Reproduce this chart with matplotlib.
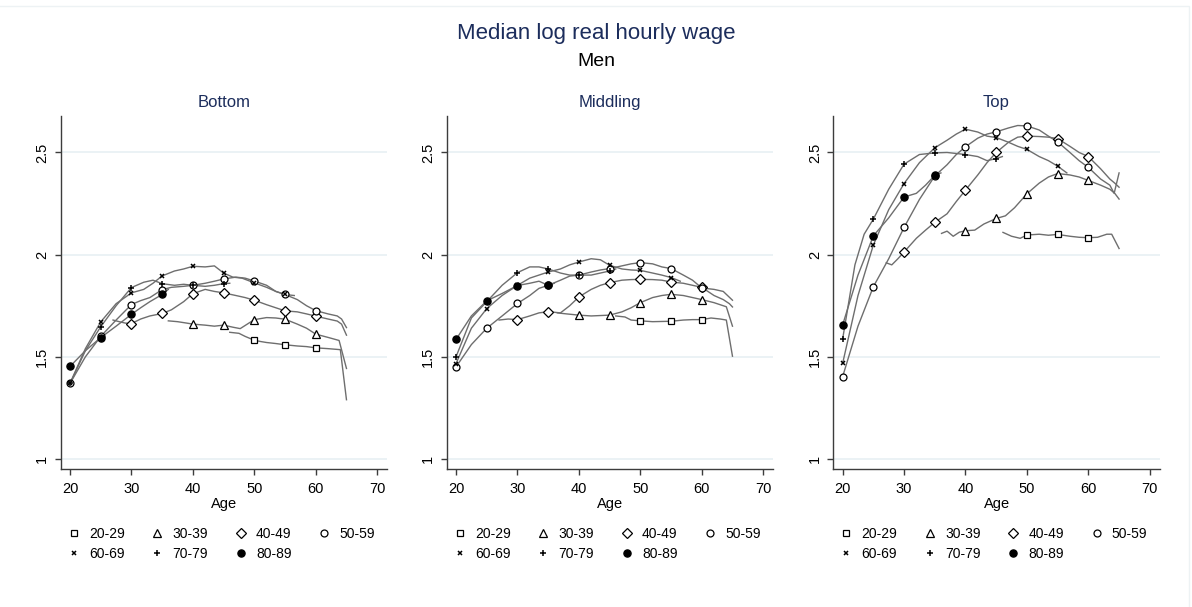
import matplotlib
matplotlib.use("Agg")
import matplotlib.pyplot as plt
from matplotlib.lines import Line2D
from matplotlib.patches import Rectangle

plt.rcParams['font.family'] = ['Liberation Sans', 'DejaVu Sans']

# cohort labels (birth decade) and the three wage groups
cohorts = ['20-29', '30-39', '40-49', '50-59', '60-69', '70-79', '80-89']
panels = ['Bottom', 'Middling', 'Top']

# (age, median log real hourly wage) for each cohort, by group
bottom_20_29 = [(46, 1.62), (47.5, 1.615), (48.5, 1.60), (50, 1.581), (51, 1.575), (52, 1.57), (53.5, 1.565),
                (55, 1.559), (57, 1.553), (58.5, 1.55), (60, 1.544), (62, 1.54), (64, 1.535), (65, 1.29)]
bottom_30_39 = [(36, 1.676), (37.5, 1.672), (39, 1.665), (40, 1.66), (42, 1.655), (43.5, 1.65), (45, 1.655),
                (46.5, 1.645), (47.7, 1.638), (50, 1.682), (52, 1.692), (53.5, 1.69), (55, 1.684), (57, 1.66),
                (58.5, 1.64), (60, 1.611), (62, 1.595), (63.8, 1.58), (65, 1.443)]
bottom_40_49 = [(27, 1.68), (28, 1.672), (29, 1.665), (30, 1.663), (31.5, 1.685), (33, 1.70), (35, 1.712),
                (36.5, 1.73), (38.5, 1.77), (40, 1.809), (42, 1.83), (43.5, 1.82), (45, 1.813), (47, 1.80),
                (48.5, 1.79), (50, 1.777), (52, 1.755), (53.5, 1.74), (55, 1.725), (57, 1.72), (58.5, 1.71),
                (60, 1.699), (62, 1.685), (63.5, 1.675), (64.2, 1.66), (65, 1.606)]
bottom_50_59 = [(20, 1.37), (22.5, 1.50), (25, 1.60), (27.5, 1.68), (30, 1.756), (31.5, 1.775), (33, 1.79),
                (35, 1.829), (36.5, 1.84), (38.5, 1.845), (40, 1.85), (42, 1.86), (43.5, 1.87), (45, 1.881),
                (47, 1.89), (48.5, 1.885), (50, 1.871), (52, 1.85), (53.5, 1.82), (55, 1.805), (57, 1.78),
                (58.5, 1.75), (60, 1.726), (62, 1.71), (63.5, 1.70), (64.2, 1.685), (65, 1.643)]
bottom_60_69 = [(20, 1.37), (22.5, 1.54), (25, 1.671), (27.5, 1.76), (30, 1.813), (32, 1.83), (33.5, 1.86),
                (35, 1.896), (37, 1.92), (38.5, 1.93), (40, 1.943), (42, 1.94), (43.5, 1.945), (45, 1.91),
                (46.5, 1.89), (48, 1.885), (50, 1.862), (52, 1.84), (53.5, 1.82), (55, 1.805), (56.5, 1.80)]
bottom_70_79 = [(20, 1.37), (22.5, 1.53), (25, 1.647), (27.5, 1.75), (30, 1.839), (32, 1.865), (33.5, 1.875),
                (35, 1.858), (37, 1.85), (38.5, 1.855), (40, 1.85), (42, 1.845), (43.5, 1.85), (45, 1.858),
                (46, 1.86)]
bottom_80_89 = [(20, 1.453), (22.5, 1.53), (25, 1.594), (27.5, 1.65), (30, 1.708), (31.5, 1.74), (33, 1.77),
                (35, 1.805), (36, 1.83)]

middling_20_29 = [(46, 1.70), (47.5, 1.695), (48.5, 1.68), (50, 1.676), (52, 1.672), (53.5, 1.673), (55, 1.674),
                  (57, 1.68), (58.5, 1.682), (60, 1.682), (61.5, 1.69), (63, 1.685), (64, 1.68), (65, 1.503)]
middling_30_39 = [(36.5, 1.715), (38, 1.71), (40, 1.704), (42, 1.70), (43.5, 1.702), (45, 1.704), (47, 1.72),
                  (48.5, 1.74), (50, 1.765), (52, 1.79), (53.5, 1.80), (55, 1.806), (57, 1.80), (58.5, 1.79),
                  (60, 1.78), (62, 1.765), (64, 1.745), (65, 1.65)]
middling_40_49 = [(27, 1.68), (28.5, 1.685), (30, 1.682), (32, 1.70), (33.5, 1.715), (35, 1.721), (37, 1.715),
                  (38.5, 1.75), (40, 1.793), (42, 1.83), (43.5, 1.85), (45, 1.863), (47, 1.875), (48.5, 1.878),
                  (50, 1.879), (52, 1.878), (53.5, 1.875), (55, 1.866), (57, 1.86), (58.5, 1.85), (60, 1.84),
                  (62, 1.80), (63.5, 1.78), (64.5, 1.76), (65, 1.744)]
middling_50_59 = [(20, 1.451), (22.5, 1.56), (25, 1.64), (27.5, 1.70), (30, 1.761), (32, 1.80), (33.5, 1.835),
                  (35, 1.85), (37, 1.875), (38.5, 1.895), (40, 1.90), (42, 1.915), (43.5, 1.925), (45, 1.932),
                  (47, 1.945), (48.5, 1.955), (50, 1.961), (52, 1.955), (53.5, 1.94), (55, 1.932), (57, 1.90),
                  (58.5, 1.875), (60, 1.837), (62, 1.83), (63.5, 1.82), (65, 1.777)]
middling_60_69 = [(20, 1.467), (22.5, 1.64), (25, 1.736), (27.5, 1.80), (30, 1.85), (32, 1.885), (33.5, 1.90),
                  (35, 1.915), (37, 1.93), (38.5, 1.95), (40, 1.964), (42, 1.98), (43.5, 1.975), (45, 1.948),
                  (47, 1.93), (48.5, 1.925), (50, 1.923), (52, 1.91), (53.5, 1.90), (55, 1.888), (56.5, 1.87)]
middling_70_79 = [(20, 1.50), (22.5, 1.69), (25, 1.77), (27.5, 1.85), (30, 1.912), (32, 1.94), (33.5, 1.94),
                  (35, 1.93), (37, 1.91), (38.5, 1.90), (40, 1.90), (42, 1.90), (43.5, 1.91), (45, 1.92),
                  (46, 1.93)]
middling_80_89 = [(20, 1.585), (22.5, 1.70), (25, 1.774), (27.5, 1.81), (30, 1.849), (32, 1.86), (33.5, 1.87),
                  (35, 1.85), (36, 1.86)]

top_20_29 = [(46.1, 2.109), (47.5, 2.09), (48.9, 2.08), (50, 2.096), (52, 2.10), (53.5, 2.095), (55, 2.099),
             (57, 2.09), (58.5, 2.085), (60, 2.083), (61.5, 2.085), (63, 2.10), (63.8, 2.10), (65, 2.03)]
top_30_39 = [(36.1, 2.104), (37, 2.115), (38, 2.09), (39, 2.11), (40, 2.117), (41.5, 2.12), (43, 2.15),
             (45, 2.177), (46.5, 2.19), (48, 2.23), (50, 2.298), (52, 2.35), (53.5, 2.38), (55, 2.397),
             (57, 2.39), (58.5, 2.38), (60, 2.363), (62, 2.34), (63.5, 2.32), (64.3, 2.30), (65, 2.272)]
top_40_49 = [(27.1, 1.96), (28, 1.95), (29, 1.98), (30, 2.013), (32, 2.08), (33.5, 2.12), (35, 2.158),
             (37, 2.20), (38.5, 2.26), (40, 2.316), (42, 2.39), (43.5, 2.45), (45, 2.50), (47, 2.55),
             (48.5, 2.575), (50, 2.58), (52, 2.578), (53.5, 2.575), (55, 2.568), (57, 2.53), (58.5, 2.50),
             (60, 2.48), (62, 2.42), (63.5, 2.37), (64.3, 2.35), (65, 2.33)]
top_50_59 = [(20, 1.403), (22.5, 1.65), (25, 1.843), (27.5, 1.98), (30, 2.133), (32.5, 2.27), (35, 2.385),
             (37, 2.44), (38.5, 2.49), (40, 2.528), (42, 2.57), (43.5, 2.59), (45, 2.601), (47, 2.62),
             (48.5, 2.632), (50, 2.63), (52, 2.61), (53.5, 2.58), (55, 2.552), (57, 2.50), (58.5, 2.46),
             (60, 2.427), (62, 2.37), (63.5, 2.34), (64.2, 2.30), (65, 2.40)]
top_60_69 = [(20, 1.468), (22.5, 1.80), (25, 2.047), (27.5, 2.22), (30, 2.348), (32.5, 2.45), (35, 2.523),
             (37, 2.56), (38.5, 2.59), (40, 2.614), (42, 2.60), (43.5, 2.58), (45, 2.573), (47, 2.55),
             (48.5, 2.53), (50, 2.515), (52, 2.48), (53.5, 2.46), (55, 2.433), (56.5, 2.40)]
top_70_79 = [(20, 1.587), (22, 1.95), (23.5, 2.10), (25, 2.174), (27.5, 2.32), (30, 2.443), (32.5, 2.49),
             (35, 2.498), (37, 2.50), (38.5, 2.495), (40, 2.49), (42, 2.48), (43.5, 2.46), (45, 2.47),
             (46, 2.48)]
top_80_89 = [(20, 1.656), (22.5, 1.90), (25, 2.092), (27.5, 2.18), (30, 2.282), (32, 2.30), (33.5, 2.34),
             (35, 2.388), (36, 2.40)]

panel_series = {
    'Bottom': [bottom_20_29, bottom_30_39, bottom_40_49, bottom_50_59, bottom_60_69, bottom_70_79, bottom_80_89],
    'Middling': [middling_20_29, middling_30_39, middling_40_49, middling_50_59, middling_60_69,
                 middling_70_79, middling_80_89],
    'Top': [top_20_29, top_30_39, top_40_49, top_50_59, top_60_69, top_70_79, top_80_89],
}

# markers sit on every fifth year of age, up to 60
marker_ages = [20, 25, 30, 35, 40, 45, 50, 55, 60]

x_ticks = [20, 30, 40, 50, 60, 70]
y_ticks = [1, 1.5, 2, 2.5]
y_ticklabels = ['1', '1.5', '2', '2.5']

# marker per cohort: (marker, size, face colour, edge width)
marker_styles = [('s', 4.8, 'white', 0.9), ('^', 5.4, 'white', 0.9), ('D', 4.6, 'white', 0.9),
                 ('o', 5.0, 'white', 0.9), ('x', 3.5, 'black', 1.1), ('+', 4.6, 'black', 1.1),
                 ('o', 5.2, 'black', 0.9)]

navy = '#1c2d5c'
line_grey = '#6e6e6e'
axis_grey = '#3c3c3c'

W, H = 1192, 607
fig = plt.figure(figsize=(W / 100, H / 100), dpi=100)
fig.patches.append(Rectangle((-0.01, -0.01), 0.01 + 1189 / W, 0.01 + 1 - 6 / H, transform=fig.transFigure,
                             fill=False, edgecolor='#edf2f4', lw=1))

fig.text(0.5, 1 - 33 / H, 'Median log real hourly wage', ha='center', va='center',
         fontsize=16, color=navy)
fig.text(0.5, 1 - 62 / H, 'Men', ha='center', va='center', fontsize=14, color='black')

lefts = [60.7, 446.7, 833.3]
ax_w, ax_bottom, ax_top = 326.5, 469, 115.7

# legend is read row by row; matplotlib fills columns first
legend_order = [0, 4, 1, 5, 2, 6, 3]

for left, name in zip(lefts, panels):
    ax = fig.add_axes([left / W, 1 - ax_bottom / H, ax_w / W, (ax_bottom - ax_top) / H])
    ax.set_xlim(18.48, 71.63)
    ax.set_ylim(0.951, 2.68)
    for y in y_ticks:
        ax.axhline(y, color='#e6eff2', lw=1.1, zorder=0)

    for series in panel_series[name]:
        ages = [a for a, _ in series]
        wages = [w for _, w in series]
        ax.plot(ages, wages, color=line_grey, lw=1.0, zorder=2)

    for series, (mk, ms, fc, mew) in zip(panel_series[name], marker_styles):
        pts = [(a, w) for a, w in series if a in marker_ages]
        ax.plot([a for a, _ in pts], [w for _, w in pts], linestyle='none', marker=mk,
                markersize=ms, markerfacecolor=fc, markeredgecolor='black',
                markeredgewidth=mew, zorder=4)

    for side in ['top', 'right']:
        ax.spines[side].set_visible(False)
    for side in ['left', 'bottom']:
        ax.spines[side].set_color(axis_grey)
        ax.spines[side].set_linewidth(1.0)

    ax.set_xticks(x_ticks)
    ax.set_yticks(y_ticks)
    ax.set_yticklabels(y_ticklabels, rotation=90, va='center')
    ax.tick_params(axis='both', direction='out', length=4.2, width=1.0, color=axis_grey,
                   labelsize=10.5, labelcolor='black')
    ax.tick_params(axis='y', pad=4)
    ax.tick_params(axis='x', pad=5)
    ax.set_xlabel('Age', fontsize=10.5, labelpad=1)
    ax.set_title(name, fontsize=12, color=navy, pad=6)

    handles = [Line2D([], [], linestyle='none', marker=mk, markersize=ms, markerfacecolor=fc,
                      markeredgecolor='black', markeredgewidth=mew)
               for mk, ms, fc, mew in marker_styles]
    ax.legend([handles[i] for i in legend_order], [cohorts[i] for i in legend_order],
              ncol=4, loc='upper left', bbox_to_anchor=(0.018, -0.163),
              frameon=False, fontsize=10, handlelength=1.0, handletextpad=0.6,
              columnspacing=1.85, labelspacing=0.45, borderpad=0, borderaxespad=0)

fig.savefig('out.png', dpi=100, facecolor='white')
